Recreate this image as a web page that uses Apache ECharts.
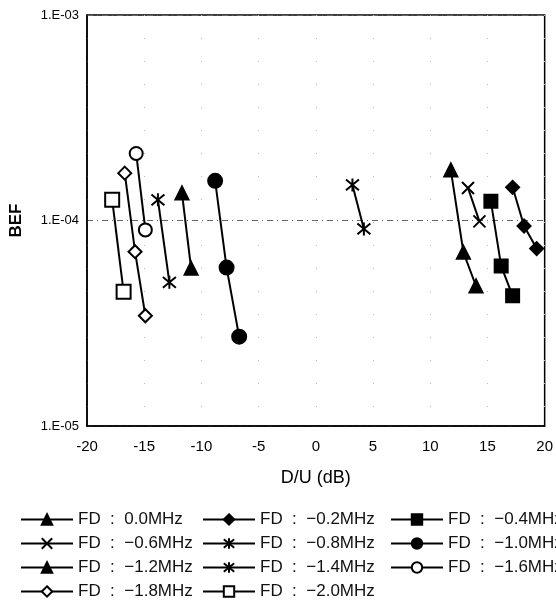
<!DOCTYPE html>
<html>
<head>
<meta charset="utf-8">
<script src="https://cdn.jsdelivr.net/npm/echarts@6/dist/echarts.min.js"></script>
<style>
html, body { margin: 0; padding: 0; background: #fff; }
#chart { width: 556px; height: 605px; }
</style>
</head>
<body>
<div id="chart"></div>
<script>
// D/U (dB) vs BEF for each frequency offset
var names = ['FD  :  0.0MHz', 'FD  :  −0.2MHz', 'FD  :  −0.4MHz',
             'FD  :  −0.6MHz', 'FD  :  −0.8MHz', 'FD  :  −1.0MHz',
             'FD  :  −1.2MHz', 'FD  :  −1.4MHz', 'FD  :  −1.6MHz',
             'FD  :  −1.8MHz', 'FD  :  −2.0MHz'];

var fd00 = [[11.8, 1.76e-4], [12.9, 7.0e-5], [14.0, 4.8e-5]];
var fd02 = [[17.2, 1.45e-4], [18.2, 9.4e-5], [19.3, 7.3e-5]];
var fd04 = [[15.3, 1.24e-4], [16.2, 6.0e-5], [17.2, 4.3e-5]];
var fd06 = [[13.3, 1.44e-4], [14.3, 9.9e-5]];
var fd08 = [[3.2, 1.49e-4], [4.2, 9.1e-5]];
var fd10 = [[-8.8, 1.56e-4], [-7.8, 5.9e-5], [-6.7, 2.72e-5]];
var fd12 = [[-11.7, 1.36e-4], [-10.9, 5.85e-5]];
var fd14 = [[-13.8, 1.26e-4], [-12.8, 5.0e-5]];
var fd16 = [[-15.7, 2.12e-4], [-14.9, 9.0e-5]];
var fd18 = [[-16.7, 1.70e-4], [-15.8, 7.05e-5], [-14.9, 3.44e-5]];
var fd20 = [[-17.8, 1.26e-4], [-16.8, 4.5e-5]];

var values = [fd00, fd02, fd04, fd06, fd08, fd10, fd12, fd14, fd16, fd18, fd20];

var crossPath = 'path://M0,0L10,10M10,0L0,10';
var starPath = 'path://M0,0L10,10M10,0L0,10M5,-1L5,11';
var symbols = ['triangle', 'diamond', 'rect', crossPath, starPath, 'circle',
               'triangle', starPath, 'emptyCircle', 'emptyDiamond', 'emptyRect'];
var sizes = [13, 13, 13, 12, 13, 14, 13, 13, 13, 13, 14];

var myChart = echarts.init(document.getElementById('chart'));

var series = values.map(function (d, i) {
    return {
        name: names[i],
        type: 'line',
        data: d,
        symbol: symbols[i],
        symbolSize: sizes[i],
        showAllSymbol: true,
        lineStyle: { color: '#000', width: 2 },
        itemStyle: { color: '#000', borderColor: '#000', borderWidth: 2 },
        emphasis: { disabled: true },
        z: 3
    };
});

// one legend per cell so the columns line up
var colLeft = [20, 202, 390];
var rowTop = [511, 535, 559, 583];
var legends = names.map(function (n, i) {
    return {
        data: [n],
        left: colLeft[i % 3],
        top: rowTop[Math.floor(i / 3)],
        itemWidth: 52,
        itemHeight: 13,
        padding: 0,
        itemGap: 0,
        selectedMode: false,
        textStyle: { color: '#111', fontSize: 17, fontFamily: 'Liberation Sans, Arial, sans-serif' }
    };
});

option = {
    backgroundColor: '#fff',
    animation: false,
    textStyle: { fontFamily: 'Liberation Sans, Arial, sans-serif' },
    grid: {
        left: 85,
        right: 9,
        top: 15,
        bottom: 179,
        show: true,
        borderColor: '#000',
        borderWidth: 1.5
    },
    legend: legends,
    xAxis: {
        type: 'value',
        min: -20,
        max: 20,
        interval: 5,
        name: 'D/U (dB)',
        nameLocation: 'middle',
        nameGap: 43,
        nameTextStyle: { fontSize: 18, color: '#000' },
        axisLine: { onZero: false, lineStyle: { color: '#000', width: 1.5 } },
        axisTick: { show: false },
        axisLabel: { color: '#000', fontSize: 15, margin: 13 },
        splitLine: { show: true, lineStyle: { color: '#bbb', width: 1, type: [1, 22] } }
    },
    yAxis: {
        type: 'log',
        logBase: 10,
        min: 1e-5,
        max: 1e-3,
        name: 'BEF',
        nameLocation: 'middle',
        nameGap: 62,
        nameTextStyle: { fontSize: 17, fontWeight: 'bold', color: '#000' },
        axisLine: { onZero: false, lineStyle: { color: '#000', width: 1.5 } },
        axisTick: { show: false },
        axisLabel: {
            color: '#000',
            fontSize: 13,
            margin: 8,
            formatter: function (v) {
                var e = Math.round(Math.log10(v));
                return '1.E-' + String(-e).padStart(2, '0');
            }
        },
        splitLine: { show: true, lineStyle: { color: '#666', width: 1, type: [6, 4, 1, 4] } }
    },
    series: series
};
myChart.setOption(option);
</script>
</body>
</html>
